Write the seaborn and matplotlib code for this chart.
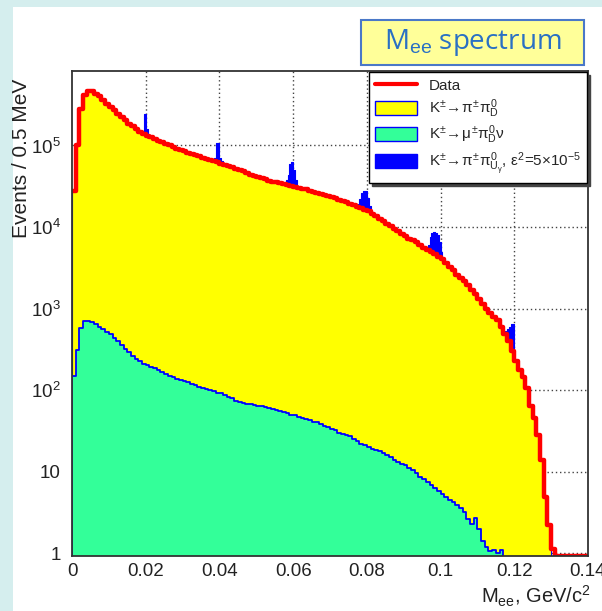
import numpy as np
import pandas as pd
import matplotlib
matplotlib.use("Agg")
import matplotlib.pyplot as plt
import seaborn as sns
from matplotlib.patches import Patch, Rectangle
from matplotlib.lines import Line2D
from matplotlib.ticker import MultipleLocator, LogLocator, FuncFormatter, NullFormatter

# ---------------- data (Events / 0.5 MeV, 1 MeV bins) -------------
bin_width = 0.001
data_counts = [
    2.8e4, 1.0e5, 2.8e5, 4.2e5, 4.6e5, 4.6e5, 4.3e5, 4.0e5, 3.6e5, 3.2e5,
    2.95e5, 2.7e5, 2.45e5, 2.24e5, 2.04e5, 1.86e5, 1.74e5, 1.6e5, 1.48e5, 1.38e5,
    1.32e5, 1.26e5, 1.2e5, 1.15e5, 1.1e5, 1.05e5, 1.0e5, 9.5e4, 9.1e4, 8.7e4,
    8.5e4, 8.1e4, 7.9e4, 7.6e4, 7.4e4, 7.1e4, 6.9e4, 6.6e4, 6.5e4, 6.2e4,
    6.0e4, 5.75e4, 5.6e4, 5.4e4, 5.1e4, 5.0e4, 4.8e4, 4.6e4, 4.4e4, 4.2e4,
    4.07e4, 4.0e4, 3.9e4, 3.7e4, 3.6e4, 3.55e4, 3.45e4, 3.4e4, 3.3e4, 3.2e4,
    3.1e4, 3.0e4, 2.95e4, 2.9e4, 2.75e4, 2.7e4, 2.6e4, 2.55e4, 2.5e4, 2.4e4,
    2.35e4, 2.24e4, 2.14e4, 2.1e4, 2.0e4, 1.9e4, 1.86e4, 1.78e4, 1.7e4, 1.62e4,
    1.55e4, 1.45e4, 1.35e4, 1.26e4, 1.17e4, 1.1e4, 1.02e4, 9.5e3, 8.9e3, 8.3e3,
    7.8e3, 7.2e3, 6.9e3, 6.5e3, 6.0e3, 5.6e3, 5.2e3, 4.9e3, 4.6e3, 4.3e3,
    4.0e3, 3.6e3, 3.2e3, 2.95e3, 2.6e3, 2.4e3, 2.2e3, 1.95e3, 1.7e3, 1.5e3,
    1.3e3, 1.15e3, 1.0e3, 890, 790, 720, 600, 490, 400, 300,
    230, 178, 145, 105, 63, 46, 28, 13.8, 4.9, 2.2,
    1.12, 0.93, 0.93, 0.93, 0.93, 0.93, 0.93, 0.93, 0.93, 0.93,
]
kpipi_counts = [
    2.8e4, 1.0e5, 2.8e5, 4.2e5, 4.6e5, 4.6e5, 4.3e5, 4.0e5, 3.6e5, 3.2e5,
    2.95e5, 2.7e5, 2.45e5, 2.24e5, 2.04e5, 1.86e5, 1.74e5, 1.6e5, 1.48e5, 1.38e5,
    1.32e5, 1.26e5, 1.2e5, 1.15e5, 1.1e5, 1.05e5, 1.0e5, 9.5e4, 9.1e4, 8.7e4,
    8.5e4, 8.1e4, 7.9e4, 7.6e4, 7.4e4, 7.1e4, 6.9e4, 6.6e4, 6.5e4, 6.2e4,
    6.0e4, 5.75e4, 5.6e4, 5.4e4, 5.1e4, 5.0e4, 4.8e4, 4.6e4, 4.4e4, 4.2e4,
    4.07e4, 4.0e4, 3.9e4, 3.7e4, 3.6e4, 3.55e4, 3.45e4, 3.4e4, 3.3e4, 3.2e4,
    3.1e4, 3.0e4, 2.95e4, 2.9e4, 2.75e4, 2.7e4, 2.6e4, 2.55e4, 2.5e4, 2.4e4,
    2.35e4, 2.24e4, 2.14e4, 2.1e4, 2.0e4, 1.9e4, 1.86e4, 1.78e4, 1.7e4, 1.62e4,
    1.55e4, 1.45e4, 1.35e4, 1.26e4, 1.17e4, 1.1e4, 1.02e4, 9.5e3, 8.9e3, 8.3e3,
    7.8e3, 7.2e3, 6.9e3, 6.5e3, 6.0e3, 5.6e3, 5.2e3, 4.9e3, 4.6e3, 4.3e3,
    4.0e3, 3.6e3, 3.2e3, 2.95e3, 2.6e3, 2.4e3, 2.2e3, 1.95e3, 1.7e3, 1.5e3,
    1.3e3, 1.15e3, 1.0e3, 890, 790, 720, 600, 490, 400, 300,
    230, 178, 145, 105, 63, 46, 28, 13.8, 4.9, 2.2,
    0, 0, 0, 0, 0, 0, 0, 0, 0, 0,
]
kmunu_counts = [
    150, 310, 575, 700, 710, 690, 650, 600, 560, 520,
    480, 440, 400, 355, 320, 290, 265, 240, 225, 210,
    200, 190, 185, 175, 165, 158, 150, 143, 138, 133,
    128, 125, 118, 115, 110, 106, 103, 100, 97, 93,
    91, 87, 83, 80, 74, 71, 70, 68, 67, 66,
    64, 63, 62, 60, 58, 57, 56, 54, 52, 50,
    49, 47, 46, 44, 43, 41, 40, 38, 36, 35,
    33, 32, 30, 29, 28, 27, 25, 24, 22, 21,
    20, 19, 18.5, 18, 17, 16, 15, 14, 13, 12.5,
    12, 11, 10.5, 9.5, 8.5, 8, 7.5, 6.8, 6.2, 5.8,
    5.3, 4.9, 4.5, 4.2, 3.9, 3.6, 3.2, 2.6, 2.3, 2.7,
    2.0, 1.4, 1.2, 1.05, 1.1, 1.0, 1.1, 0, 0, 0,
    0, 0, 0, 0, 0, 0, 0, 0, 0, 0,
    0, 0, 0, 0, 0, 0, 0, 0, 0, 0,
]
# signal peaks (0.5 MeV bins): first bin low edge and bin contents (stacked total)
signal_bin_width = 0.0005
signal_start = [0.0190, 0.0385, 0.0580, 0.0775, 0.0965, 0.1165]
signal_counts = [
    [1.45e5, 2.4e5, 1.6e5, 1.4e5],
    [7.0e4, 1.07e5, 1.07e5, 7.0e4, 6.5e4],
    [3.8e4, 4.4e4, 6.0e4, 6.2e4, 5.0e4, 3.8e4],
    [1.9e4, 2.2e4, 2.6e4, 2.8e4, 2.8e4, 2.3e4, 1.8e4],
    [6.0e3, 7.5e3, 8.5e3, 8.7e3, 8.5e3, 8.0e3, 6.5e3, 5.0e3, 4.2e3],
    [560, 520, 530, 560, 600, 640, 650],
]
x_ticks = [0, 0.02, 0.04, 0.06, 0.08, 0.1, 0.12, 0.14]
y_decades = [1, 10, 100, 1000, 10000, 100000]
legend_labels = [
    "Data",
    r"K$^{\pm}\!\rightarrow\!\pi^{\pm}\pi^{0}_{D}$",
    r"K$^{\pm}\!\rightarrow\!\mu^{\pm}\pi^{0}_{D}\nu$",
    r"K$^{\pm}\!\rightarrow\!\pi^{\pm}\pi^{0}_{U_{\gamma}}$, $\epsilon^{2}$=5$\times$10$^{-5}$",
]

# ---------------- style ----------------
sns.set_theme(style="white")
plt.rcParams["font.family"] = ["Liberation Sans", "DejaVu Sans"]
plt.rcParams["mathtext.fontset"] = "custom"
plt.rcParams["mathtext.rm"] = "Liberation Sans"
plt.rcParams["mathtext.it"] = "Liberation Sans"
plt.rcParams["mathtext.sf"] = "Liberation Sans"
plt.rcParams["mathtext.bf"] = "Liberation Sans:bold"

W, H = 602, 611
fig = plt.figure(figsize=(W / 100, H / 100), dpi=100)
fig.patch.set_facecolor("#d5eeee")
fig.patches.append(Rectangle((13 / W, 0), 1, 1 - 7 / H, transform=fig.transFigure,
                             facecolor="white", edgecolor="none", zorder=-10))

ax = fig.add_axes([72 / W, 55 / H, 516 / W, 485 / H])
ax.set_facecolor("white")
ax.set_zorder(1)

edges = [round(i * bin_width, 4) for i in range(len(data_counts) + 1)]
centers = [round(e + bin_width / 2, 5) for e in edges[:-1]]
df = pd.DataFrame({"mass": centers, "data": data_counts,
                   "kpipi": kpipi_counts, "kmunu": kmunu_counts})

# grid (behind histograms)
for xv in x_ticks[1:-1]:
    ax.axvline(xv, color="#444444", lw=1.0, ls=(0, (1, 2)), zorder=0.5)
for yv in y_decades:
    ax.axhline(yv, color="#444444", lw=1.0, ls=(0, (1, 2)), zorder=0.5)

# signal peaks (drawn first; only the part above the K->pipi histogram shows)
for start, vals in zip(signal_start, signal_counts):
    e = [round(start + signal_bin_width * k, 5) for k in range(len(vals) + 1)]
    sdf = pd.DataFrame({"mass": [x + signal_bin_width / 2 for x in e[:-1]], "n": vals})
    sns.histplot(data=sdf, x="mass", weights="n", bins=e, element="step", fill=True,
                 color="#0000ff", alpha=1, edgecolor="#0000ff", linewidth=0.8,
                 ax=ax, zorder=1)

sns.histplot(data=df, x="mass", weights="kpipi", bins=edges, element="step", fill=True,
             color="#ffff00", alpha=1, edgecolor="#0000ff", linewidth=0.8, ax=ax, zorder=2)
sns.histplot(data=df, x="mass", weights="kmunu", bins=edges, element="step", fill=True,
             color="#33ff99", alpha=1, edgecolor="#0000ff", linewidth=1.3, ax=ax, zorder=3)
sns.histplot(data=df, x="mass", weights="data", bins=edges, element="step", fill=False,
             color="#ff0000", linewidth=3.2, ax=ax, zorder=4)

ax.set_yscale("log")
ax.set_xlim(0, 0.14)
ax.set_ylim(0.92, 8.2e5)

# ticks
ax.xaxis.set_major_locator(MultipleLocator(0.02))
ax.xaxis.set_minor_locator(MultipleLocator(0.005))
ax.xaxis.set_major_formatter(FuncFormatter(lambda v, p: "0" if abs(v) < 1e-9 else f"{v:g}"))
ax.yaxis.set_major_locator(LogLocator(base=10))
ax.yaxis.set_minor_locator(LogLocator(base=10, subs=np.arange(2, 10)))
ax.yaxis.set_minor_formatter(NullFormatter())


def yfmt(v, p):
    if v < 1.5:
        return "1"
    if v < 15:
        return "10"
    return r"$10^{%d}$" % int(round(np.log10(v)))


ax.yaxis.set_major_formatter(FuncFormatter(yfmt))
ax.tick_params(axis="x", which="major", direction="in", length=10, width=0.9,
               labelsize=13.5, pad=5, colors="black", labelcolor="#222222")
ax.tick_params(axis="x", which="minor", direction="in", length=5, width=0.9, colors="black")
ax.tick_params(axis="y", which="major", direction="in", length=11, width=0.9,
               labelsize=13.5, pad=8, colors="black", labelcolor="#222222")
ax.tick_params(axis="y", which="minor", direction="in", length=5.5, width=0.9, colors="black")
ax.tick_params(top=False, right=False, which="both")
for s in ax.spines.values():
    s.set_color("#333333")
    s.set_linewidth(1.3)
    s.set_zorder(6)

ax.set_xlabel(r"M$_{ee}$, GeV/c$^{2}$", fontsize=14.5, color="#222222", loc="right")
ax.xaxis.set_label_coords(1.005, -0.058)
ax.set_ylabel("Events / 0.5 MeV", fontsize=15, color="#222222", loc="top")
ax.yaxis.set_label_coords(-0.08, 0.985)

handles = [
    Line2D([], [], color="#ff0000", lw=3),
    Patch(facecolor="#ffff00", edgecolor="#0000ff", lw=1),
    Patch(facecolor="#33ff99", edgecolor="#0000ff", lw=1),
    Patch(facecolor="#0000ff", edgecolor="#0000ff", lw=1),
]
leg = ax.legend(handles, legend_labels, loc="upper right", bbox_to_anchor=(0.998, 0.998),
                frameon=True, fancybox=False, edgecolor="black", fontsize=11,
                handlelength=2.7, handleheight=1.05, labelspacing=0.25, borderpad=0.4,
                handletextpad=0.8, borderaxespad=0.0,
                shadow={"color": "#444444", "alpha": 1.0})
leg.get_frame().set_linewidth(1.0)
leg.set_zorder(10)

# title box
fig.patches.append(Rectangle((361 / W, 1 - 65 / H), 223 / W, 45 / H, transform=fig.transFigure,
                             facecolor="#ffff99", edgecolor="#4a78c8", lw=1.5, zorder=5))
fig.text(472.5 / W, 1 - 43 / H, r"M$_{ee}$ spectrum", ha="center", va="center",
         fontsize=20, color="#2a70c4", family=["Open Sans", "DejaVu Sans"], zorder=6)

fig.savefig("out.png", dpi=100, facecolor=fig.get_facecolor())
